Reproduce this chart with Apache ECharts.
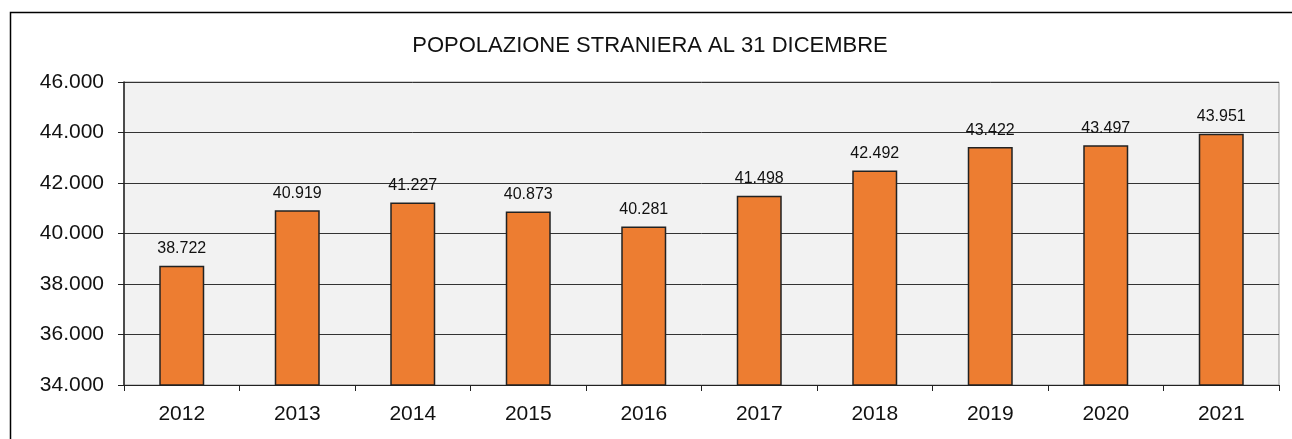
<!DOCTYPE html>
<html>
<head>
    <title>Popolazione straniera al 31 dicembre</title>
    <script src="https://cdn.jsdelivr.net/npm/echarts@6/dist/echarts.min.js"></script>
    <style>
        html, body { margin: 0; padding: 0; background: #fff; }
    </style>
</head>
<body>
    <div id="chart" style="width: 1292px; height: 439px;"></div>
    <script>
        // data
        var years = ['2012', '2013', '2014', '2015', '2016', '2017', '2018', '2019', '2020', '2021'];
        var stranieri = [38722, 40919, 41227, 40873, 40281, 41498, 42492, 43422, 43497, 43951];
        var yMin = 34000, yMax = 46000, yStep = 2000;

        // 38722 -> "38.722"
        function fmt(v) {
            return String(v).replace(/\B(?=(\d{3})+(?!\d))/g, '.');
        }

        var chart = echarts.init(document.querySelector('#chart'));

        var option = {
          animation: false,
          textStyle: { fontFamily: 'Liberation Sans, Arial, sans-serif' },
          title: {
            text: 'POPOLAZIONE STRANIERA AL 31 DICEMBRE',
            left: 645,
            textAlign: 'center',
            top: 22,
            textStyle: { fontSize: 22, fontWeight: 'normal', color: '#111' }
          },
          graphic: [{
            // outer frame, only left and top edges are visible
            type: 'rect',
            shape: { x: 10.5, y: 12.5, width: 1400, height: 500 },
            style: { fill: 'none', stroke: '#000', lineWidth: 1.5 },
            silent: true
          }],
          grid: {
            left: 124, right: 13, top: 82, bottom: 54,
            show: true,
            backgroundColor: '#f2f2f2',
            borderColor: '#9a9a9a',
            borderWidth: 1
          },
          xAxis: {
            type: 'category',
            data: years,
            axisLine: { lineStyle: { color: '#222', width: 1 } },
            axisTick: { show: true, length: 6, lineStyle: { color: '#222' } },
            axisLabel: { fontSize: 21, color: '#111', margin: 11 }
          },
          yAxis: {
            type: 'value',
            min: yMin, max: yMax, interval: yStep,
            axisLine: { show: true, lineStyle: { color: '#222', width: 1.5 } },
            axisTick: { show: true, length: 6, lineStyle: { color: '#222' } },
            axisLabel: { fontSize: 21, color: '#111', margin: 20, formatter: fmt },
            splitLine: { lineStyle: { color: '#333', width: 1 } }
          },
          series: [{
            type: 'bar',
            data: stranieri,
            barWidth: 45,
            itemStyle: { color: '#ed7d31', borderColor: '#222', borderWidth: 1.5 },
            label: {
              show: true,
              position: 'top',
              distance: 3,
              fontSize: 16,
              color: '#111',
              formatter: function (p) { return fmt(p.value); }
            }
          }]
        };
        chart.setOption(option);
    </script>
</body>
</html>
